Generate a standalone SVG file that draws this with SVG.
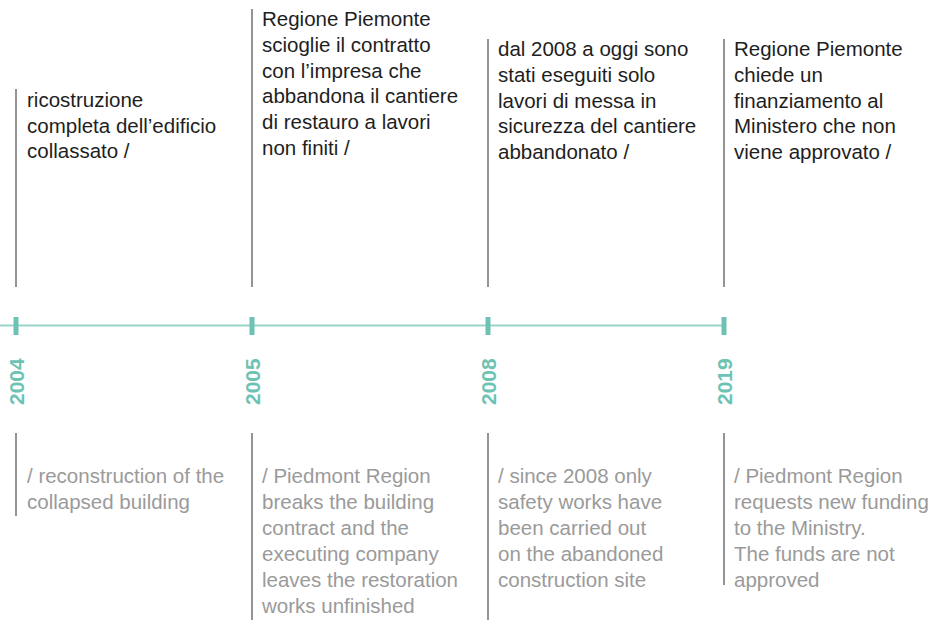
<svg xmlns="http://www.w3.org/2000/svg" width="934" height="620" viewBox="0 0 934 620">
<style>
.top{font-family:"Liberation Sans",Arial,sans-serif;font-size:20.5px;fill:#1e1e1e}
.bot{font-family:"Liberation Sans",Arial,sans-serif;font-size:20.5px;fill:#9a9a9a}
.yr{font-family:"Liberation Sans",Arial,sans-serif;font-size:21px;font-weight:bold;fill:#6dc3b3}
.vl{stroke:#707070;stroke-width:1.5}
.tick{fill:#6dc3b3}
</style>
<rect width="934" height="620" fill="#ffffff"/>
<g id="connectors">
<line x1="0" y1="325.5" x2="724" y2="325.5" stroke="#97d3c8" stroke-width="2"/>
<line class="vl" x1="16" y1="89" x2="16" y2="287"/>
<line class="vl" x1="252" y1="9" x2="252" y2="287"/>
<line class="vl" x1="488" y1="39" x2="488" y2="287"/>
<line class="vl" x1="724" y1="39" x2="724" y2="287"/>
<line class="vl" x1="16" y1="433" x2="16" y2="516"/>
<line class="vl" x1="252" y1="433" x2="252" y2="620"/>
<line class="vl" x1="488" y1="433" x2="488" y2="620"/>
<line class="vl" x1="724" y1="433" x2="724" y2="585"/>
</g>
<g id="node-2004">
<rect class="tick" x="13.5" y="317" width="5" height="18"/>
<text class="yr" transform="translate(24,405) rotate(-90)">2004</text>
<text class="top" x="27" y="107"><tspan x="27">ricostruzione</tspan><tspan x="27" dy="25.5">completa dell’edificio</tspan><tspan x="27" dy="25.5">collassato /</tspan></text>
<text class="bot" x="27" y="483"><tspan x="27">/ reconstruction of the</tspan><tspan x="27" dy="25.8">collapsed building</tspan></text>
</g>
<g id="node-2005">
<rect class="tick" x="249.5" y="317" width="5" height="18"/>
<text class="yr" transform="translate(260,405) rotate(-90)">2005</text>
<text class="top" x="262" y="26"><tspan x="262">Regione Piemonte</tspan><tspan x="262" dy="25.8">scioglie il contratto</tspan><tspan x="262" dy="25.8">con l’impresa che</tspan><tspan x="262" dy="25.8">abbandona il cantiere</tspan><tspan x="262" dy="25.8">di restauro a lavori</tspan><tspan x="262" dy="25.8">non finiti /</tspan></text>
<text class="bot" x="262" y="483"><tspan x="262">/ Piedmont Region</tspan><tspan x="262" dy="26">breaks the building</tspan><tspan x="262" dy="26">contract and the</tspan><tspan x="262" dy="26">executing company</tspan><tspan x="262" dy="26">leaves the restoration</tspan><tspan x="262" dy="26">works unfinished</tspan></text>
</g>
<g id="node-2008">
<rect class="tick" x="485.5" y="317" width="5" height="18"/>
<text class="yr" transform="translate(496,405) rotate(-90)">2008</text>
<text class="top" x="498" y="56"><tspan x="498">dal 2008 a oggi sono</tspan><tspan x="498" dy="25.8">stati eseguiti solo</tspan><tspan x="498" dy="25.8">lavori di messa in</tspan><tspan x="498" dy="25.8">sicurezza del cantiere</tspan><tspan x="498" dy="25.8">abbandonato /</tspan></text>
<text class="bot" x="498" y="483"><tspan x="498">/ since 2008 only</tspan><tspan x="498" dy="26">safety works have</tspan><tspan x="498" dy="26">been carried out</tspan><tspan x="498" dy="26">on the abandoned</tspan><tspan x="498" dy="26">construction site</tspan></text>
</g>
<g id="node-2019">
<rect class="tick" x="721.5" y="317" width="5" height="18"/>
<text class="yr" transform="translate(732,405) rotate(-90)">2019</text>
<text class="top" x="734" y="56"><tspan x="734">Regione Piemonte</tspan><tspan x="734" dy="25.8">chiede un</tspan><tspan x="734" dy="25.8">finanziamento al</tspan><tspan x="734" dy="25.8">Ministero che non</tspan><tspan x="734" dy="25.8">viene approvato /</tspan></text>
<text class="bot" x="734" y="483"><tspan x="734">/ Piedmont Region</tspan><tspan x="734" dy="26">requests new funding</tspan><tspan x="734" dy="26">to the Ministry.</tspan><tspan x="734" dy="26">The funds are not</tspan><tspan x="734" dy="26">approved</tspan></text>
</g>
</svg>
